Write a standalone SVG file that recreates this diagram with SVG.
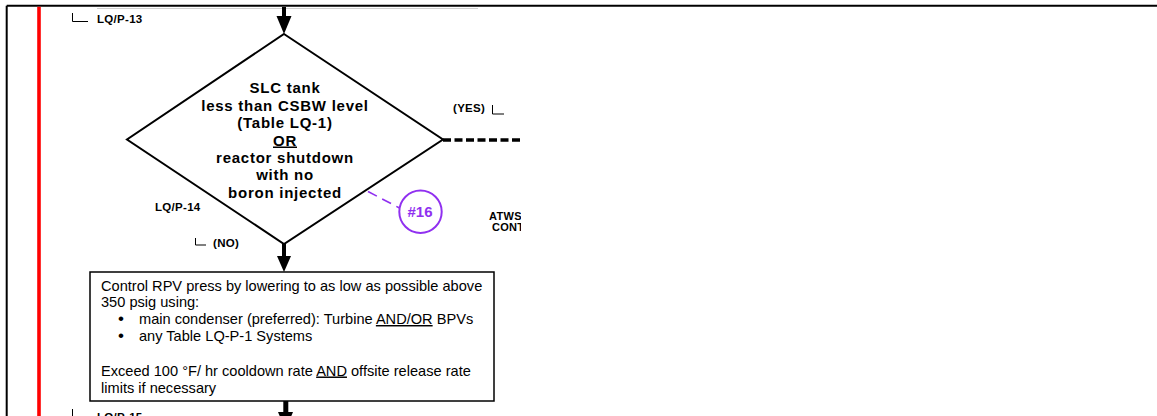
<svg xmlns="http://www.w3.org/2000/svg" width="1157" height="416" viewBox="0 0 1157 416">
<style>
.lbl{font-family:"Liberation Sans",Arial,sans-serif;font-weight:bold;font-size:11.5px;letter-spacing:0.3px;fill:#000}
.dt{font-family:"Liberation Sans",Arial,sans-serif;font-weight:bold;font-size:15px;letter-spacing:0.75px;fill:#000;text-anchor:middle}
.bt{font-family:"Liberation Sans",Arial,sans-serif;font-size:14.6px;fill:#000}
.corner{fill:none;stroke:#000;stroke-width:1}
.u{text-decoration:underline}
</style>
<defs>
<clipPath id="clipR"><rect x="0" y="0" width="521" height="416"/></clipPath>
</defs>
<rect x="0" y="0" width="1157" height="416" fill="#fff"/>
<g id="frame">
<line x1="6.7" y1="5.7" x2="1157" y2="5.7" stroke="#000" stroke-width="2"/>
<line x1="6.7" y1="5.7" x2="6.7" y2="416" stroke="#000" stroke-width="2"/>
<line x1="97" y1="8.5" x2="478" y2="8.5" stroke="#d0d0d0" stroke-width="1"/>
<line x1="39" y1="6.7" x2="39" y2="416" stroke="#ff0000" stroke-width="3.6"/>
</g>
<g id="connectors">
<line x1="284" y1="7" x2="284" y2="17" stroke="#000" stroke-width="4"/>
<polygon points="276.5,16 291.5,16 284,34" fill="#000"/>
<line x1="284" y1="244" x2="284" y2="258" stroke="#000" stroke-width="4"/>
<polygon points="277,256 291,256 284,272" fill="#000"/>
<line x1="285.8" y1="401" x2="285.8" y2="413" stroke="#000" stroke-width="5"/>
<polygon points="278,412 293,412 285.5,430" fill="#000"/>
<line x1="443" y1="140" x2="521" y2="140" stroke="#000" stroke-width="3.5" stroke-dasharray="8,3.5"/>
<line x1="368" y1="191.5" x2="399.5" y2="208" stroke="#9030f0" stroke-width="1.6" stroke-dasharray="10,6"/>
</g>
<g id="label-lqp13">
<path class="corner" d="M72.5,13 V21.5 H88"/>
<text class="lbl" x="97" y="22.5">LQ/P-13</text>
</g>
<g id="decision">
<polygon points="284,34 443,139.5 284,244 127,139.5" fill="#fff" stroke="#000" stroke-width="2"/>
<text class="dt" x="285" y="93.3">SLC tank</text>
<text class="dt" x="285" y="110.7">less than CSBW level</text>
<text class="dt" x="285" y="128.1">(Table LQ-1)</text>
<text class="dt" x="285" y="145.5"><tspan class="u">OR</tspan></text>
<text class="dt" x="285" y="162.9">reactor shutdown</text>
<text class="dt" x="285" y="180.3">with no</text>
<text class="dt" x="285" y="197.7">boron injected</text>
</g>
<g id="label-yes">
<text class="lbl" x="453" y="112">(YES)</text>
<path class="corner" d="M492.5,105 V114 H504"/>
</g>
<g id="label-lqp14">
<text class="lbl" x="155" y="211">LQ/P-14</text>
</g>
<g id="label-no">
<path class="corner" d="M195.5,238 V245 H206"/>
<text class="lbl" x="213" y="247">(NO)</text>
</g>
<g id="label-atws" clip-path="url(#clipR)">
<text class="lbl" x="489" y="220" style="font-size:11px">ATWS</text>
<text class="lbl" x="492" y="231" style="font-size:11px">CONT</text>
</g>
<g id="note-16">
<circle cx="420.5" cy="211.7" r="21.2" fill="#fff" stroke="#9030f0" stroke-width="2"/>
<text x="420" y="217" text-anchor="middle" style="font-family:'Liberation Sans',Arial,sans-serif;font-weight:bold;font-size:15px;fill:#9030f0">#16</text>
</g>
<g id="action-box">
<rect x="90" y="272" width="404" height="129" fill="#fff" stroke="#000" stroke-width="1.5"/>
<text class="bt" x="101" y="290.5">Control RPV press by lowering to as low as possible above</text>
<text class="bt" x="101" y="307">350 psig using:</text>
<text class="bt" x="118" y="324" style="font-size:17px">•</text>
<text class="bt" x="139" y="324">main condenser (preferred): Turbine <tspan class="u">AND/OR</tspan> BPVs</text>
<text class="bt" x="118" y="341" style="font-size:17px">•</text>
<text class="bt" x="139" y="341">any Table LQ-P-1 Systems</text>
<text class="bt" x="101" y="375.5">Exceed 100 °F/ hr cooldown rate <tspan class="u">AND</tspan> offsite release rate</text>
<text class="bt" x="101" y="392.5">limits if necessary</text>
</g>
<g id="label-lqp15">
<path class="corner" d="M72.5,409 V422"/>
<text class="lbl" x="97" y="421">LQ/P-15</text>
</g>
</svg>
